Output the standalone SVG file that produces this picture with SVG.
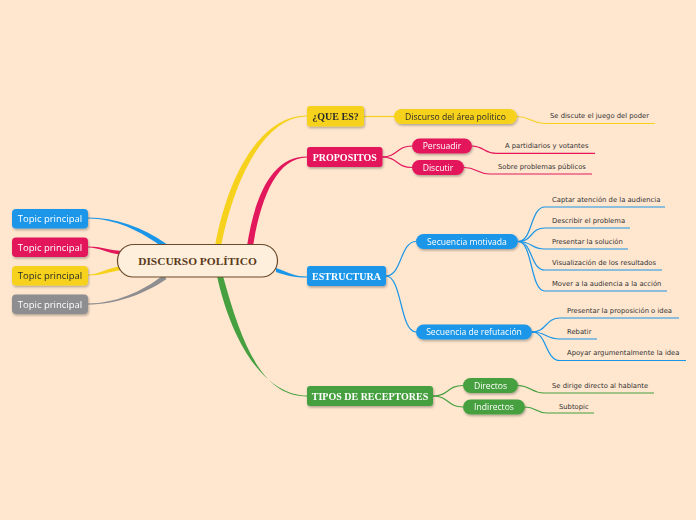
<svg xmlns="http://www.w3.org/2000/svg" width="696" height="520" viewBox="0 0 696 520">
<defs>
<filter id="sh" x="-20%" y="-30%" width="140%" height="170%">
<feDropShadow dx="0.8" dy="1.5" stdDeviation="0.9" flood-color="#000" flood-opacity="0.3"/>
</filter>
<style>
.main{font-family:"Liberation Serif",serif;font-weight:bold;font-size:10px;text-anchor:middle}
.pill{font-family:"Open Sans","DejaVu Sans",sans-serif;font-size:8.6px;text-anchor:middle}
.topic{font-family:"Open Sans","DejaVu Sans",sans-serif;font-size:9.5px;text-anchor:middle}
.leaf{font-family:"DejaVu Sans",sans-serif;font-size:6.8px;fill:#333}
.c{fill:none;stroke-width:1.2}
.y{stroke:#F7D21C}.p{stroke:#E3185C}.b{stroke:#1A96E8}.g{stroke:#46A03F}
.w{fill:#fff}.d{fill:#2a2a2a}
</style>
</defs>
<rect width="696" height="520" fill="#FEE6CF"/>
<g id="connectors">
<path d="M88,217.4 C115,217.4 143,227 166.5,244 L163.5,248 C141,231 115,218.6 88,218.6 Z" fill="#1A96E8"/>
<path d="M88,246.5 C102,246.5 108,250 122,251 L122,255 C106,253 100,247.5 88,247.5 Z" fill="#E3185C"/>
<path d="M88,274.5 C100,274.5 106,268 122,266 L122,270 C108,272 102,275.5 88,275.5 Z" fill="#F7D21C"/>
<path d="M88,303.4 C115,303.4 142,292 163.5,275 L166.5,279 C145,294 115,304.6 88,304.6 Z" fill="#8E8E90"/>
<path d="M215,246 C229,170 263,115.5 307,115.5 L307,116.5 C267,116.5 236,172 221,246 Z" fill="#F7D21C"/>
<path d="M247,246 C255,195 272,156.5 307,156.5 L307,157.5 C277,157.5 261,197 253,246 Z" fill="#E3185C"/>
<path d="M276,268 C290,273 295,276.5 307,276.5 L307,277.5 C294,277.5 288,276 276,272 Z" fill="#1A96E8"/>
<path d="M217,276 C232,345 266,395.5 307,395.5 L307,396.5 C262,396.5 242,345 223,276 Z" fill="#46A03F"/>
<path class="c y" d="M364,116.5 C378,116.5 380,116.5 394,116.5"/>
<path class="c y" d="M517,116.5 C531,116.5 531,123.5 545,123.5"/>
<path class="c p" d="M382,157 C398,157 396,146 412,146"/>
<path class="c p" d="M382,157 C398,157 396,167.5 412,167.5"/>
<path class="c p" d="M472,146 C484,146 484,153.3 496,153.3"/>
<path class="c p" d="M464,167.5 C477,167.5 477,174 490,174"/>
<path class="c b" d="M386,276 C402,276 400,241.5 416,241.5"/>
<path class="c b" d="M386,276 C402,276 400,332 416,332"/>
<path class="c b" d="M518,241.5 C533,241.5 530,207 545,207"/>
<path class="c b" d="M518,241.5 C533,241.5 530,228 545,228"/>
<path class="c b" d="M518,241.5 C533,241.5 530,249 545,249"/>
<path class="c b" d="M518,241.5 C533,241.5 530,270 545,270"/>
<path class="c b" d="M518,241.5 C533,241.5 530,291 545,291"/>
<path class="c b" d="M532,332 C547,332 545,318 560,318"/>
<path class="c b" d="M532,332 C547,332 545,339 560,339"/>
<path class="c b" d="M532,332 C547,332 545,360.5 560,360.5"/>
<path class="c g" d="M433,396 C449,396 447,385.5 463,385.5"/>
<path class="c g" d="M433,396 C449,396 447,407 463,407"/>
<path class="c g" d="M518,385.5 C531,385.5 531,393 544,393"/>
<path class="c g" d="M525,407 C536,407 536,413 547,413"/>
</g>
<g id="central">
<rect x="117.5" y="244.5" width="160" height="32.5" rx="16" fill="#FEEEDC" stroke="#6A4A2A" stroke-width="1.2"/>
<text x="197.5" y="265" font-family="Liberation Serif,serif" font-weight="bold" font-size="11.4" text-anchor="middle" fill="#5A3A1A">DISCURSO POLÍTICO</text>
</g>
<g id="topic1" filter="url(#sh)"><rect x="12" y="209" width="76" height="19.5" rx="4" fill="#1A96E8"/><text class="topic w" x="50" y="222">Topic principal</text></g>
<g id="topic2" filter="url(#sh)"><rect x="12" y="237.5" width="76" height="19.5" rx="4" fill="#E3185C"/><text class="topic w" x="50" y="250.5">Topic principal</text></g>
<g id="topic3" filter="url(#sh)"><rect x="12" y="266" width="76" height="19.5" rx="4" fill="#F7D21C"/><text class="topic d" x="50" y="279">Topic principal</text></g>
<g id="topic4" filter="url(#sh)"><rect x="12" y="294.5" width="76" height="19.5" rx="4" fill="#8E8E90"/><text class="topic w" x="50" y="307.5">Topic principal</text></g>
<g id="quees" filter="url(#sh)"><rect x="307" y="106" width="57" height="20.5" rx="3" fill="#F7D21C"/><text class="main d" x="335.5" y="119.8">¿QUE ES?</text></g>
<g id="propositos" filter="url(#sh)"><rect x="307" y="147" width="75.5" height="20" rx="3" fill="#E3185C"/><text class="main w" x="344.8" y="160.5">PROPOSITOS</text></g>
<g id="estructura" filter="url(#sh)"><rect x="307" y="266" width="79" height="20" rx="3" fill="#1A96E8"/><text class="main w" x="346.5" y="279.5">ESTRUCTURA</text></g>
<g id="tipos" filter="url(#sh)"><rect x="307" y="386" width="126" height="20" rx="3" fill="#46A03F"/><text class="main w" x="370" y="399.5">TIPOS DE RECEPTORES</text></g>
<g id="discurso-area" filter="url(#sh)"><rect x="394" y="109" width="123" height="15" rx="7.5" fill="#F7D21C"/><text class="pill d" x="455.5" y="119.8">Discurso del área politico</text></g>
<g id="persuadir" filter="url(#sh)"><rect x="412" y="138.5" width="60" height="15" rx="7.5" fill="#E3185C"/><text class="pill w" x="442" y="149.3">Persuadir</text></g>
<g id="discutir" filter="url(#sh)"><rect x="412" y="160" width="52" height="15" rx="7.5" fill="#E3185C"/><text class="pill w" x="438" y="170.8">Discutir</text></g>
<g id="sec-motivada" filter="url(#sh)"><rect x="416" y="234" width="102" height="15" rx="7.5" fill="#1A96E8"/><text class="pill w" x="467" y="244.8">Secuencia motivada</text></g>
<g id="sec-refutacion" filter="url(#sh)"><rect x="416" y="324.5" width="116" height="15" rx="7.5" fill="#1A96E8"/><text class="pill w" x="474" y="335.3">Secuencia de refutación</text></g>
<g id="directos" filter="url(#sh)"><rect x="463" y="378" width="55" height="15" rx="7.5" fill="#46A03F"/><text class="pill w" x="490.5" y="388.8">Directos</text></g>
<g id="indirectos" filter="url(#sh)"><rect x="463" y="399.5" width="62" height="15" rx="7.5" fill="#46A03F"/><text class="pill w" x="494" y="410.3">Indirectos</text></g>
<g id="leaf-poder"><text class="leaf" x="550" y="118.3">Se discute el juego del poder</text><path class="c y" d="M545,123.5 H655"/></g>
<g id="leaf-partidiarios"><text class="leaf" x="505" y="148.3">A partidiarios y votantes</text><path class="c p" d="M496,153.3 H595"/></g>
<g id="leaf-problemas"><text class="leaf" x="498" y="169.2">Sobre problemas públicos</text><path class="c p" d="M490,174 H592"/></g>
<g id="leaf-captar"><text class="leaf" x="552" y="202.3">Captar atención de la audiencia</text><path class="c b" d="M545,207 H665"/></g>
<g id="leaf-describir"><text class="leaf" x="552" y="223.3">Describir el problema</text><path class="c b" d="M545,228 H630"/></g>
<g id="leaf-presentar"><text class="leaf" x="552" y="244.3">Presentar la solución</text><path class="c b" d="M545,249 H628"/></g>
<g id="leaf-visualizacion"><text class="leaf" x="552" y="265.3">Visualización de los resultados</text><path class="c b" d="M545,270 H662"/></g>
<g id="leaf-mover"><text class="leaf" x="552" y="286.3">Mover a la audiencia a la acción</text><path class="c b" d="M545,291 H667"/></g>
<g id="leaf-proposicion"><text class="leaf" x="567" y="312.6">Presentar la proposición o idea</text><path class="c b" d="M560,318 H679"/></g>
<g id="leaf-rebatir"><text class="leaf" x="567" y="333.6">Rebatir</text><path class="c b" d="M560,339 H597"/></g>
<g id="leaf-apoyar"><text class="leaf" x="567" y="354.6">Apoyar argumentalmente la idea</text><path class="c b" d="M560,360.5 H686"/></g>
<g id="leaf-dirige"><text class="leaf" x="552" y="388.2">Se dirige directo al hablante</text><path class="c g" d="M544,393 H654"/></g>
<g id="leaf-subtopic"><text class="leaf" x="559" y="409.2">Subtopic</text><path class="c g" d="M547,413 H594"/></g>
</svg>
